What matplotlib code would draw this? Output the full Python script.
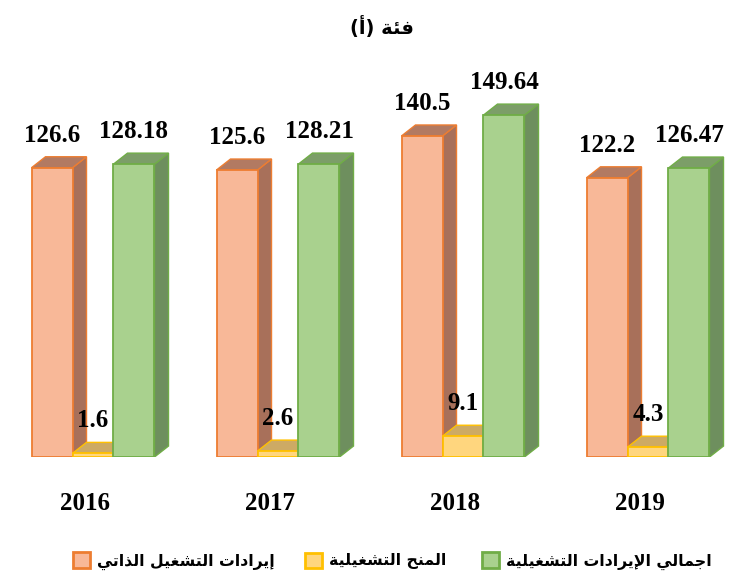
import matplotlib.pyplot as plt
from matplotlib.patches import Polygon, Patch

years = ["2016", "2017", "2018", "2019"]
self_revenue = [126.6, 125.6, 140.5, 122.2]
grants = [1.6, 2.6, 9.1, 4.3]
total_revenue = [128.18, 128.21, 149.64, 126.47]

series_names = ["إيرادات التشغيل الذاتي", "المنح التشغيلية", "اجمالي الإيرادات التشغيلية"]
title = "فئة (أ)"

# Arabic presentation forms: (isolated, final, initial, medial)
FORMS = {
    "\u0627": ("\uFE8D", "\uFE8E"),
    "\u0623": ("\uFE83", "\uFE84"),
    "\u0625": ("\uFE87", "\uFE88"),
    "\u0629": ("\uFE93", "\uFE94"),
    "\u062F": ("\uFEA9", "\uFEAA"),
    "\u0630": ("\uFEAB", "\uFEAC"),
    "\u0631": ("\uFEAD", "\uFEAE"),
    "\u062A": ("\uFE95", "\uFE96", "\uFE97", "\uFE98"),
    "\u062C": ("\uFE9D", "\uFE9E", "\uFE9F", "\uFEA0"),
    "\u062D": ("\uFEA1", "\uFEA2", "\uFEA3", "\uFEA4"),
    "\u0634": ("\uFEB5", "\uFEB6", "\uFEB7", "\uFEB8"),
    "\u063A": ("\uFECD", "\uFECE", "\uFECF", "\uFED0"),
    "\u0641": ("\uFED1", "\uFED2", "\uFED3", "\uFED4"),
    "\u0644": ("\uFEDD", "\uFEDE", "\uFEDF", "\uFEE0"),
    "\u0645": ("\uFEE1", "\uFEE2", "\uFEE3", "\uFEE4"),
    "\u0646": ("\uFEE5", "\uFEE6", "\uFEE7", "\uFEE8"),
    "\u064A": ("\uFEF1", "\uFEF2", "\uFEF3", "\uFEF4"),
    "\u0626": ("\uFE89", "\uFE8A", "\uFE8B", "\uFE8C"),
    "\u0644\u0627": ("\uFEFB", "\uFEFC"),
    "\u0644\u0623": ("\uFEF7", "\uFEF8"),
    "\u0644\u0625": ("\uFEF9", "\uFEFA"),
}
MIRROR = {"(": ")", ")": "("}


def shape(text):
    tokens = []
    i = 0
    while i < len(text):
        if text[i:i + 2] in FORMS:
            tokens.append(text[i:i + 2])
            i += 2
        else:
            tokens.append(text[i])
            i += 1
    out = []
    for k, t in enumerate(tokens):
        if t not in FORMS:
            out.append(MIRROR.get(t, t))
            continue
        f = FORMS[t]
        prev_j = k > 0 and len(FORMS.get(tokens[k - 1], ())) == 4
        next_j = len(f) == 4 and k + 1 < len(tokens) and tokens[k + 1] in FORMS
        if prev_j and next_j:
            out.append(f[3])
        elif prev_j:
            out.append(f[1])
        elif next_j:
            out.append(f[2])
        else:
            out.append(f[0])
    return "".join(reversed(out))


front_colors = ["#F8B898", "#FFD67E", "#A9D18E"]
side_colors = ["#A8705A", "#C4A25E", "#6E8F5E"]
top_colors = ["#B27A62", "#CDAA64", "#7C9E68"]
edge_colors = ["#ED7D31", "#FFC000", "#70AD47"]

W, H = 748, 574
fig = plt.figure(figsize=(W / 100, H / 100), dpi=100)
ax = fig.add_axes([0.5 / W, 117 / H, 740 / W, 434 / H])
ax.set_xlim(-0.5, 3.5)
ax.set_ylim(0, 434 / 2.285)
ax.axis("off")

bar_w = 0.2216
dx = 0.0757
dy = 4.8
num_font = dict(family="Liberation Serif", weight="bold", fontsize=18)


def draw_bar(x0, h, s):
    side = [(x0 + bar_w, 0), (x0 + bar_w + dx, dy), (x0 + bar_w + dx, h + dy), (x0 + bar_w, h)]
    top = [(x0, h), (x0 + bar_w, h), (x0 + bar_w + dx, h + dy), (x0 + dx, h + dy)]
    front = [(x0, 0), (x0 + bar_w, 0), (x0 + bar_w, h), (x0, h)]
    ax.add_patch(Polygon(side, closed=True, facecolor=side_colors[s], edgecolor=edge_colors[s], lw=1.0))
    ax.add_patch(Polygon(top, closed=True, facecolor=top_colors[s], edgecolor=edge_colors[s], lw=1.0))
    ax.add_patch(Polygon(front, closed=True, facecolor=front_colors[s], edgecolor=edge_colors[s], lw=1.3))
    ax.text(x0 + bar_w / 2, h + 11.4, f"{h:g}", ha="center", va="baseline", **num_font)


series = [self_revenue, grants, total_revenue]
for i, year in enumerate(years):
    for s, vals in enumerate(series):
        draw_bar(i + (s - 1.5) * bar_w, vals[i], s)
    ax.text(i - 0.045, -23.2, year, ha="center", va="baseline", **num_font)

ar_font = dict(family="DejaVu Sans", weight="bold")
fig.text(382 / W, 1 - 27 / H, shape(title), ha="center", va="center", fontsize=14, **ar_font)

# legend entries placed one by one at their spots in the reference
legend_x = [73, 305, 482]
for s in range(3):
    handle = Patch(facecolor=front_colors[s], edgecolor=edge_colors[s], lw=2)
    fig.legend([handle], [shape(series_names[s])], loc="center left",
               bbox_to_anchor=(legend_x[s] / W, 1 - 561 / H), frameon=False,
               prop=dict(ar_font, size=11.3), handlelength=1.1, handleheight=1.1,
               handletextpad=0.45, borderpad=0, borderaxespad=0)

fig.savefig("out.png", dpi=100)
